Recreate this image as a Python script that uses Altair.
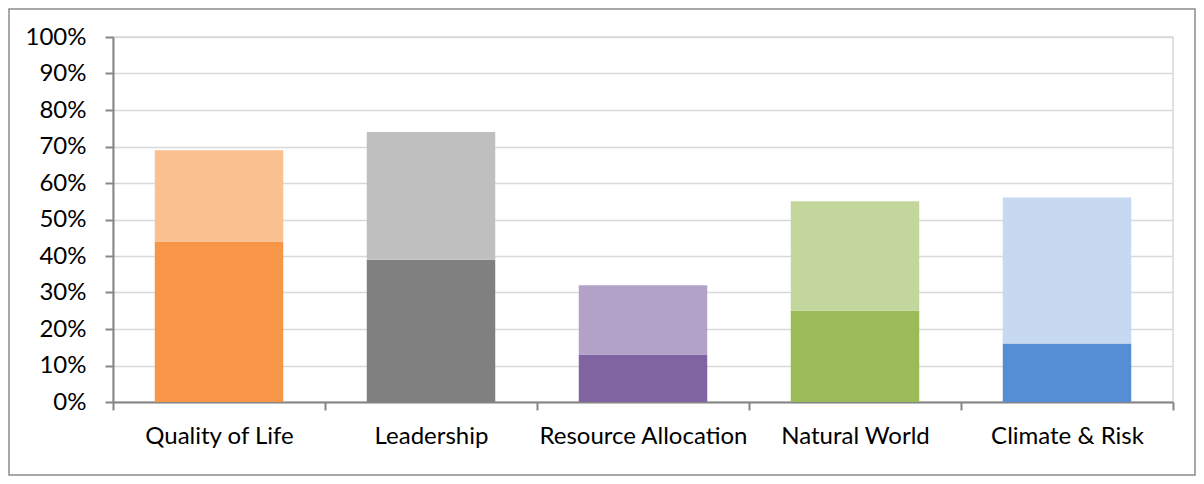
import altair as alt
import pandas as pd

categories = ["Quality of Life", "Leadership", "Resource Allocation", "Natural World", "Climate & Risk"]
inner_values = [44, 39, 13, 25, 16]      # dark lower segment (%)
total_values = [69, 74, 32, 55, 56]      # top of light segment (%)
dark_colors = ["#F79646", "#808080", "#8064A2", "#9BBB59", "#558ED5"]
light_colors = ["#FAC090", "#BFBFBF", "#B3A2C7", "#C3D69B", "#C6D9F1"]
y_ticks = [i / 10 for i in range(11)]

rows = []
domain, rng = [], []
for c, d, t, dc, lc in zip(categories, inner_values, total_values, dark_colors, light_colors):
    rows.append({"cat": c, "key": c + "|dark", "val": d / 100, "ord": 0})
    rows.append({"cat": c, "key": c + "|light", "val": (t - d) / 100, "ord": 1})
    domain += [c + "|dark", c + "|light"]
    rng += [dc, lc]
df = pd.DataFrame(rows)

W, H = 1060, 365
PL, PT, PR, PB = 105, 29, 23, 74

bars = alt.Chart(df).mark_bar(width=alt.RelativeBandSize(0.606)).encode(
    x=alt.X("cat:N", sort=categories, title=None,
            scale=alt.Scale(paddingInner=0, paddingOuter=0),
            axis=alt.Axis(labelAngle=0, tickBand="extent", labelFontSize=24,
                          labelFont="Lato", labelColor="#000000", labelPadding=14,
                          labelLimit=0,
                          tickSize=8, tickColor="#868686", tickWidth=2,
                          domainColor="#868686", domainWidth=2, grid=False)),
    y=alt.Y("val:Q", stack="zero", title=None,
            scale=alt.Scale(domain=[0, 1], nice=False),
            axis=alt.Axis(values=y_ticks, format=".0%", labelFontSize=24,
                          labelFont="Lato", labelColor="#000000", labelPadding=19,
                          tickSize=8, tickColor="#868686", tickWidth=2,
                          domainColor="#868686", domainWidth=2,
                          gridColor="#D9D9D9", gridWidth=1.5)),
    color=alt.Color("key:N", scale=alt.Scale(domain=domain, range=rng), legend=None),
    order=alt.Order("ord:Q", sort="ascending"),
)

border = alt.Chart(pd.DataFrame({"a": [0]})).mark_rect(
    fill=None, stroke="#8c8c8c", strokeWidth=1.5
).encode(
    x=alt.value(-PL + 1), x2=alt.value(W + PR - 1),
    y=alt.value(-PT + 1), y2=alt.value(H + PB - 1),
)

chart = alt.layer(bars, border).properties(
    width=W, height=H,
    autosize=alt.AutoSizeParams(type="none"),
    padding={"left": PL, "top": PT, "right": PR, "bottom": PB},
).configure_view(stroke="#D9D9D9", strokeWidth=1.5)

chart.save("out.html", embed_options={"renderer": "svg", "actions": False})
